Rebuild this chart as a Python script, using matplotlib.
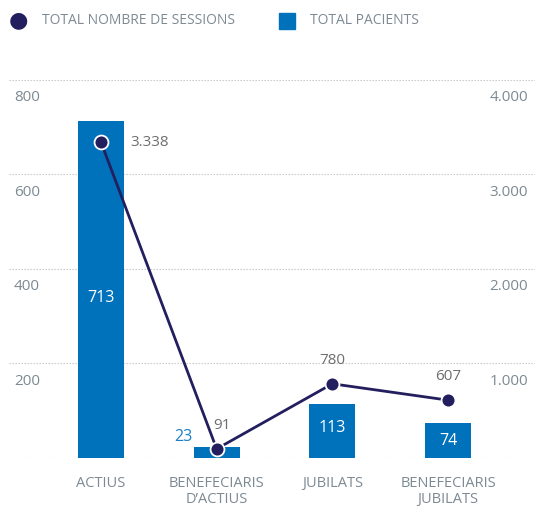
import numpy as np
import matplotlib.pyplot as plt

plt.rcParams['font.family'] = ['Open Sans', 'DejaVu Sans']

BARCOLOR = '#0072bc'
LINECOLOR = '#231f5e'
TEXTCOLOR = '#7d8a93'
GRIDCOLOR = '#c4c4c4'

categories = ['ACTIUS', 'BENEFECIARIS\nD\u2019ACTIUS', 'JUBILATS', 'BENEFECIARIS\nJUBILATS']
pacients = [713, 23, 113, 74]
sessions = [3338, 91, 780, 607]
left_ticks = [200, 400, 600, 800]
right_ticks = [1000, 2000, 3000, 4000]
right_labels = ['1.000', '2.000', '3.000', '4.000']

W, H = 535, 509
fig = plt.figure(figsize=(W / 100, H / 100), dpi=100)
ax = fig.add_axes([9 / W, (H - 457.5) / H, (W - 9) / W, 378 / H])
ax2 = ax.twinx()

x = np.arange(len(categories))
ax.set_xlim(-0.795, 3.752)
ax.set_ylim(0, 800)
ax2.set_ylim(0, 4000)

for s in list(ax.spines.values()) + list(ax2.spines.values()):
    s.set_visible(False)
ax.set_yticks([])
ax2.set_yticks([])

# dotted grid lines, the zero line included
for v in [0] + left_ticks:
    ax.axhline(v, color=GRIDCOLOR, lw=0.8, ls=(0, (1.2, 1.5)), zorder=0)

# value labels sit just under each grid line
for v in left_ticks:
    ax.annotate(str(v), xy=(0.0095, v), xycoords=('axes fraction', 'data'),
                xytext=(0, -13), textcoords='offset points',
                ha='left', va='center', fontsize=11, color=TEXTCOLOR)
for v, lab in zip(right_ticks, right_labels):
    ax2.annotate(lab, xy=(0.9867, v), xycoords=('axes fraction', 'data'),
                 xytext=(0, -13), textcoords='offset points',
                 ha='right', va='center', fontsize=11, color=TEXTCOLOR)

ax.bar(x, pacients, width=0.398, color=BARCOLOR, zorder=2)

ax.set_xticks(x)
ax.set_xticklabels(categories, fontsize=10.5, color=TEXTCOLOR, linespacing=1.15)
ax.tick_params(axis='x', length=0, pad=13)

# bar values: white inside, blue beside the short bar
ax.text(x[0], 337, str(pacients[0]), ha='center', va='center', color='white', fontsize=11.5, zorder=3)
ax.text(x[1] - 0.29, 43, str(pacients[1]), ha='center', va='center',
        color='#1a7fc4', fontsize=11.5, zorder=3)
ax.text(x[2], 62, str(pacients[2]), ha='center', va='center', color='white', fontsize=11.5, zorder=3)
ax.text(x[3], 35, str(pacients[3]), ha='center', va='center', color='white', fontsize=11.5, zorder=3)

ax2.plot(x, sessions, color=LINECOLOR, lw=2, marker='o', ms=10,
         mfc=LINECOLOR, mec='white', mew=1.3, zorder=4)

lbl = dict(fontsize=11, color='#6e6e6e', textcoords='offset points')
ax2.annotate('3.338', xy=(x[0], sessions[0]), xytext=(21, 0), ha='left', va='center', **lbl)
ax2.annotate('91', xy=(x[1], sessions[1]), xytext=(4, 17), ha='center', va='center', **lbl)
ax2.annotate('780', xy=(x[2], sessions[2]), xytext=(0, 17), ha='center', va='center', **lbl)
ax2.annotate('607', xy=(x[3], sessions[3]), xytext=(0, 17), ha='center', va='center', **lbl)

# legend drawn by hand across the top
fig.text(18 / W, 1 - 20 / H, '\u25cf', color=LINECOLOR, fontsize=16, ha='center', va='center',
         family='DejaVu Sans')
fig.text(42 / W, 1 - 20 / H, 'TOTAL NOMBRE DE SESSIONS', color=TEXTCOLOR, fontsize=10, va='center')
fig.patches.append(plt.Rectangle((279 / W, 1 - 29 / H), 16 / W, 16 / H, color=BARCOLOR,
                                 transform=fig.transFigure, figure=fig))
fig.text(310 / W, 1 - 20 / H, 'TOTAL PACIENTS', color=TEXTCOLOR, fontsize=10, va='center')

fig.savefig('out.png', dpi=100)
